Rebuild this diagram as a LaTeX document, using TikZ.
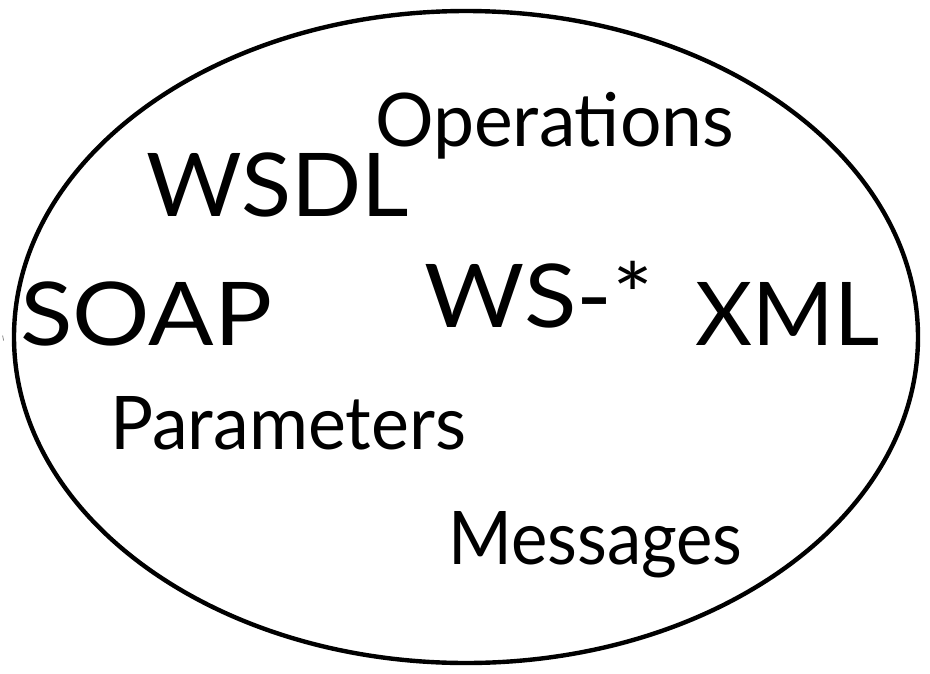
\documentclass[tikz,border=0pt]{standalone}
\usepackage{fontspec}
\setmainfont{Lato}
\tikzset{
  term/.style={inner sep=0pt, anchor=base west, font=\fontsize{88}{90}\selectfont},
  smallterm/.style={inner sep=0pt, anchor=base west, font=\fontsize{74}{76}\selectfont},
  rim/.style={line width=4.4pt, draw=black}
}
\begin{document}
\begin{tikzpicture}[x=1pt,y=-1pt]
  \useasboundingbox (0,0) rectangle (930,673);
  % outer ellipse holding all terms
  \draw[rim] (466,337) ellipse [x radius=452, y radius=326];
  % small stray tick left of the ellipse
  \coordinate (tickA) at (2.6,335.5);
  \coordinate (tickB) at (3.6,340.5);
  \draw[gray, line width=0.7pt] (tickA) -- (tickB);
  % terms
  \node[smallterm, xscale=0.99] (ops)    at (375,146) {Operations};
  \node[term, xscale=1.05]      (wsdl)   at (146,216) {WSDL};
  \node[term, xscale=1.1]       (soap)   at (20,345)  {SOAP};
  \node[term, xscale=1.1]       (wsstar) at (424,327) {WS-*};
  \node[term]                   (xml)    at (695,345) {XML};
  \node[smallterm, xscale=0.97] (params) at (110,449) {Parameters};
  \node[smallterm, xscale=0.93] (msgs)   at (448,564) {Messages};
\end{tikzpicture}
\end{document}
